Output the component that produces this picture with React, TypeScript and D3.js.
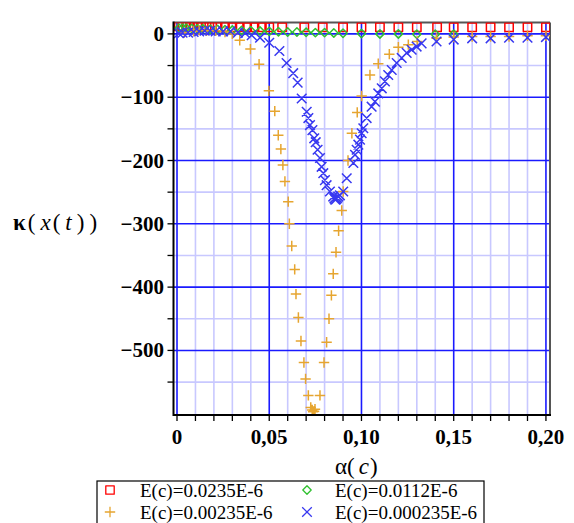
import React from "react";
import * as d3 from "d3";

// κ(x(t)) against α(c) for four values of E(c)
const seriesLabels = ["E(c)=0.0235E-6", "E(c)=0.0112E-6", "E(c)=0.00235E-6", "E(c)=0.000235E-6"];

const alphaA = [0.001, 0.003, 0.005, 0.007, 0.009, 0.011, 0.013, 0.016, 0.019, 0.022, 0.026, 0.03, 0.034, 0.038, 0.042, 0.046, 0.05, 0.057, 0.069, 0.079, 0.09, 0.1, 0.11, 0.12, 0.13, 0.141, 0.15, 0.16, 0.17, 0.18, 0.19, 0.2];
const kappaA = [12, 12, 12, 11.5, 11.5, 11.5, 11, 11, 11, 11, 11, 10.5, 10.5, 10.5, 10.5, 10.5, 10.5, 10.5, 10.5, 10.5, 10.5, 10.5, 10.5, 10.5, 10.5, 10.5, 10.5, 10.5, 10.5, 10.5, 10.5, 10.5];

const alphaB = [0.001, 0.003, 0.005, 0.008, 0.011, 0.014, 0.018, 0.022, 0.026, 0.03, 0.035, 0.04, 0.045, 0.05, 0.055, 0.06, 0.065, 0.07, 0.075, 0.08, 0.085, 0.09, 0.1, 0.11, 0.12, 0.13, 0.14, 0.15];
const kappaB = [9, 9, 9, 8.5, 8, 8, 7.5, 7, 6.5, 6, 5.5, 5, 4.5, 4, 3.5, 3, 3, 2.5, 2, 2, 1.5, 1, 0.5, 0, 0, -0.5, -0.5, -0.5];

const alphaC = [0.004, 0.009, 0.012, 0.016, 0.021, 0.026, 0.03, 0.034, 0.0398, 0.0445, 0.0498, 0.053, 0.0549, 0.0563, 0.0574, 0.0585, 0.0603, 0.0609, 0.0622, 0.0638, 0.0645, 0.0658, 0.0672, 0.0688, 0.0697, 0.0712, 0.0725, 0.0733, 0.0738, 0.0743, 0.0748, 0.0775, 0.0797, 0.0811, 0.0824, 0.0837, 0.0847, 0.0862, 0.0876, 0.0893, 0.0901, 0.0927, 0.0948, 0.0977, 0.1001, 0.1046, 0.1091, 0.1151, 0.12, 0.1254, 0.1303, 0.1407, 0.15, 0.16, 0.17, 0.18, 0.19, 0.2];
const kappaC = [2, 4, 6, 5, 5, 3, 0, -10, -24, -48, -90, -122, -160, -182, -207, -233, -265, -300, -335, -372, -411, -448, -485, -519, -545, -571, -590, -594, -597, -596, -593, -571, -519, -487, -450, -413, -379, -345, -311, -279, -249, -200, -157, -124, -98, -65, -47, -32, -21, -17, -12, -7, -5, -4, -4, -4, -3, -3];

const alphaD = [0.001, 0.003, 0.006, 0.009, 0.012, 0.015, 0.018, 0.021, 0.025, 0.029, 0.033, 0.037, 0.0405, 0.045, 0.05, 0.0555, 0.0594, 0.063, 0.0654, 0.0676, 0.0703, 0.0712, 0.0721, 0.0734, 0.0744, 0.0752, 0.0762, 0.0775, 0.0784, 0.0793, 0.0802, 0.0811, 0.0829, 0.0847, 0.0853, 0.0858, 0.0863, 0.0868, 0.0874, 0.0883, 0.0901, 0.092, 0.0956, 0.0965, 0.0974, 0.0983, 0.0992, 0.1001, 0.101, 0.1028, 0.1055, 0.1073, 0.1091, 0.111, 0.1127, 0.1145, 0.1164, 0.1191, 0.1218, 0.1245, 0.1272, 0.1299, 0.1326, 0.1407, 0.15, 0.16, 0.17, 0.18, 0.19, 0.2];
const kappaD = [1, 2, 2, 3, 4, 5, 5, 4, 4, 4, 2, 1, -2, -6, -14, -27, -46, -62, -77, -102, -123, -133, -144, -152, -165, -171, -183, -196, -210, -220, -231, -239, -249, -257, -260, -262, -261, -259, -257, -255, -249, -228, -204, -191, -183, -175, -167, -157, -149, -133, -115, -107, -94, -86, -75, -65, -57, -46, -38, -30, -25, -20, -15, -12, -9, -7, -7, -6, -6, -5];

const xMajorTicks = [0, 0.05, 0.1, 0.15, 0.2];
const xTickLabels = ["0", "0,05", "0,10", "0,15", "0,20"];
const yMajorTicks = [0, -100, -200, -300, -400, -500];
const yTickLabels = ["0", "\u2212100", "\u2212200", "\u2212300", "\u2212400", "\u2212500"];

const W = 574;
const H = 523;
const serif = "Liberation Serif, Times New Roman, serif";

const COLORS = { red: "#ff0000", green: "#30c030", orange: "#e6a530", blue: "#3838f0" };

function squarePath(cx: number, cy: number, s: number) {
  return `M${cx - s},${cy - s}H${cx + s}V${cy + s}H${cx - s}Z`;
}
function diamondPath(cx: number, cy: number, s: number) {
  return `M${cx},${cy - s}L${cx + s},${cy}L${cx},${cy + s}L${cx - s},${cy}Z`;
}
function plusPath(cx: number, cy: number, s: number) {
  return `M${cx - s},${cy}H${cx + s}M${cx},${cy - s}V${cy + s}`;
}
function crossPath(cx: number, cy: number, s: number) {
  return `M${cx - s},${cy - s}L${cx + s},${cy + s}M${cx + s},${cy - s}L${cx - s},${cy + s}`;
}

export default function App() {
  const x = d3.scaleLinear().domain([-0.0019, 0.2022]).range([173.5, 550]);
  const y = d3.scaleLinear().domain([-602, 18]).range([415, 22.5]);
  const [x0, x1] = x.range();
  const [y0, y1] = y.range();

  const xMinor = d3.range(0, 0.2001, 0.01).filter((v) => Math.abs(Math.round(v * 100) % 5) !== 0);
  const yMinor = d3.range(-550, 1, 50).filter((v) => v % 100 !== 0);
  const xTickAll = d3.range(0, 0.2001, 0.01);
  const yTickAll = d3.range(-550, 1, 50);

  const series = [
    { xs: alphaA, ys: kappaA, shape: squarePath, size: 4.2, color: COLORS.red },
    { xs: alphaB, ys: kappaB, shape: diamondPath, size: 4.2, color: COLORS.green },
    { xs: alphaC, ys: kappaC, shape: plusPath, size: 5.2, color: COLORS.orange },
    { xs: alphaD, ys: kappaD, shape: crossPath, size: 4.8, color: COLORS.blue },
  ];

  const legendItems = [
    { sx: 110, tx: 140, cy: 490, base: 497, si: 0 },
    { sx: 307, tx: 335, cy: 490, base: 497, si: 1 },
    { sx: 110, tx: 140, cy: 512, base: 519, si: 2 },
    { sx: 307, tx: 335, cy: 512, base: 519, si: 3 },
  ];

  return (
    <svg
      width={W}
      height={H}
      viewBox={`0 0 ${W} ${H}`}
      style={{ position: "absolute", left: 0, top: 0, background: "#fff" }}
    >
      <rect x={0} y={0} width={W} height={H} fill="#fff" />
      <defs>
        <clipPath id="plotClip">
          <rect x={x0} y={y1} width={x1 - x0} height={y0 - y1} />
        </clipPath>
      </defs>

      {/* grid */}
      <g strokeWidth={1.6}>
        {xMinor.map((v, i) => (
          <line key={"xm" + i} x1={x(v)} x2={x(v)} y1={y1} y2={y0} stroke="#c8c8ff" />
        ))}
        {yMinor.map((v, i) => (
          <line key={"ym" + i} x1={x0} x2={x1} y1={y(v)} y2={y(v)} stroke="#c8c8ff" />
        ))}
        {xMajorTicks.map((v, i) => (
          <line key={"xM" + i} x1={x(v)} x2={x(v)} y1={y1} y2={y0} stroke="#1a1aff" />
        ))}
        {yMajorTicks.map((v, i) => (
          <line key={"yM" + i} x1={x0} x2={x1} y1={y(v)} y2={y(v)} stroke="#1a1aff" />
        ))}
      </g>

      {/* frame */}
      <line x1={x0} x2={x1} y1={y1} y2={y1} stroke="#555" strokeWidth={2} />
      <line x1={x1} x2={x1} y1={y1} y2={y0} stroke="#555" strokeWidth={2} />

      {/* points */}
      <g clipPath="url(#plotClip)">
        {series.map((s, si) => (
          <path
            key={"s" + si}
            d={s.xs.map((v, i) => s.shape(x(v), y(s.ys[i]), s.size)).join("")}
            fill="none"
            stroke={s.color}
            strokeWidth={1.5}
            strokeLinejoin="round"
          />
        ))}
      </g>

      {/* axes */}
      <line x1={x0} x2={x1 + 1} y1={y0} y2={y0} stroke="#000" strokeWidth={2} />
      <line x1={x0} x2={x0} y1={y1 - 1} y2={y0 + 1} stroke="#000" strokeWidth={2} />
      {xTickAll.map((v, i) => (
        <line key={"xt" + i} x1={x(v)} x2={x(v)} y1={y0} y2={y0 + 6} stroke="#000" strokeWidth={1.3} />
      ))}
      {yTickAll.map((v, i) => (
        <line key={"yt" + i} x1={x0 - 6} x2={x0} y1={y(v)} y2={y(v)} stroke="#000" strokeWidth={1.3} />
      ))}

      <g style={{ fontFamily: serif }} fontWeight="bold" fontSize={21} fill="#000">
        {xMajorTicks.map((v, i) => (
          <text key={"xl" + i} x={x(v)} y={444} textAnchor="middle">
            {xTickLabels[i]}
          </text>
        ))}
        {yMajorTicks.map((v, i) => (
          <text key={"yl" + i} x={164} y={y(v) + 7} textAnchor="end">
            {yTickLabels[i]}
          </text>
        ))}
      </g>

      {/* axis titles */}
      <text x={13} y={230} style={{ fontFamily: serif }} fontSize={23} fill="#000">
        <tspan fontWeight="bold">κ</tspan>
        <tspan dx={2}>(</tspan>
        <tspan dx={5} fontStyle="italic">x</tspan>
        <tspan dx={2}>(</tspan>
        <tspan dx={5} fontStyle="italic">t</tspan>
        <tspan dx={5}>)</tspan>
        <tspan dx={5}>)</tspan>
      </text>
      <text x={335} y={474} style={{ fontFamily: serif }} fontSize={23} fill="#000">
        <tspan>α(</tspan>
        <tspan dx={4} fontStyle="italic">c</tspan>
        <tspan dx={1}>)</tspan>
      </text>

      {/* legend */}
      <rect x={97} y={481} width={387} height={60} fill="none" stroke="#000" strokeWidth={1.2} />
      {legendItems.map((it, i) => {
        const s = series[it.si];
        return (
          <g key={"lg" + i}>
            <path d={s.shape(it.sx, it.cy, s.size)} fill="none" stroke={s.color} strokeWidth={1.3} strokeLinejoin="round" />
            <text x={it.tx} y={it.base} style={{ fontFamily: serif }} fontSize={19} fill="#000">
              {seriesLabels[it.si]}
            </text>
          </g>
        );
      })}
    </svg>
  );
}
